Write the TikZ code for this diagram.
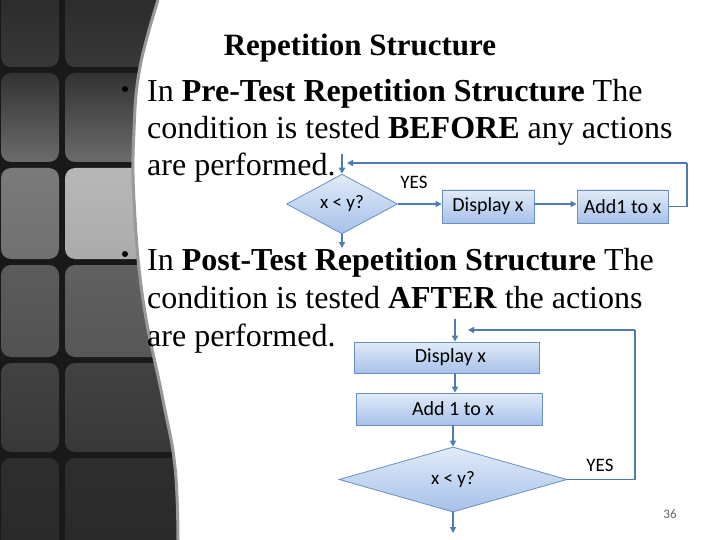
\documentclass[tikz,border=0pt]{standalone}
\usepackage{fontspec}
\setmainfont{Liberation Serif}
\newfontfamily\calfont{Carlito}
\usetikzlibrary{shapes.geometric,arrows.meta}
\definecolor{arr}{HTML}{4F7BB0}
\definecolor{bord}{HTML}{6A8FC3}
\definecolor{ftop}{HTML}{E2EBF8}
\definecolor{fbot}{HTML}{A6C1E9}
\tikzset{
  flowbox/.style={rectangle, draw=bord, line width=0.8pt, top color=ftop, bottom color=fbot, inner sep=0pt, font=\calfont\fontsize{20}{22}\selectfont},
  flowdia/.style={diamond, draw=bord, line width=0.8pt, top color=ftop, bottom color=fbot, inner sep=0pt, font=\calfont\fontsize{19}{22}\selectfont},
  conn/.style={draw=arr, line width=1.6pt, -{Triangle[length=6pt,width=6pt]}},
  connplain/.style={draw=arr, line width=1.6pt},
  lbl/.style={font=\calfont\fontsize{19}{22}\selectfont, inner sep=0pt},
  body/.style={font=\fontsize{32}{36}\selectfont, anchor=base west, inner sep=0pt},
  tile/.style={rounded corners=10pt}
}
\begin{document}
\begin{tikzpicture}[x=1pt,y=-1pt]
\useasboundingbox (0,0) rectangle (720,540);
\fill[white] (0,0) rectangle (720,540);
% left decorative panel
\begin{scope}
\clip (0,0) -- plot[smooth,tension=0.7] coordinates {(158,0) (140,67) (134,130) (134,200) (143,300) (163,400) (175,467) (178,540)} -- (0,540) -- cycle;
\fill[black!90] (0,0) rectangle (200,540);
\shade[tile,top color=black!84,bottom color=black!78] (1,-20) rectangle (59,67);
\shade[tile,top color=black!84,bottom color=black!78] (65,-20) rectangle (230,67);
\shade[tile,top color=black!80,bottom color=black!58] (1,73) rectangle (59,162);
\shade[tile,top color=black!80,bottom color=black!58] (65,73) rectangle (230,162);
\shade[tile,top color=black!52,bottom color=black!56] (1,168) rectangle (59,259);
\shade[tile,top color=black!28,bottom color=black!33] (65,168) rectangle (230,259);
\shade[tile,top color=black!64,bottom color=black!68] (1,265) rectangle (59,357);
\shade[tile,top color=black!62,bottom color=black!66] (65,265) rectangle (230,357);
\shade[tile,top color=black!74,bottom color=black!78] (1,363) rectangle (59,452);
\shade[tile,top color=black!74,bottom color=black!78] (65,363) rectangle (230,452);
\shade[tile,top color=black!82,bottom color=black!84] (1,458) rectangle (59,560);
\shade[tile,top color=black!82,bottom color=black!84] (65,458) rectangle (230,560);
\end{scope}
\draw[black!40,line width=3pt] plot[smooth,tension=0.7] coordinates {(158,0) (140,67) (134,130) (134,200) (143,300) (163,400) (175,467) (178,540)};
% title and text
\node[font=\bfseries\fontsize{31}{34}\selectfont, inner sep=0pt, anchor=base] (title) at (360,56) {Repetition Structure};
\fill (125,89) circle (3);
\fill (125,254) circle (3);
\node[body] (l1) at (147,102) {In \textbf{Pre-Test Repetition Structure} The};
\node[body] (l2) at (147,139) {condition is tested \textbf{BEFORE} any actions};
\node[body] (l3) at (147,176) {are performed.};
\node[body] (l4) at (147,270) {In \textbf{Post-Test Repetition Structure} The};
\node[body] (l5) at (147,308) {condition is tested \textbf{AFTER} the actions};
\node[body] (l6) at (147,346) {are performed.};
% top flowchart
\node[flowdia, minimum width=111pt, minimum height=58pt] (d1) at (342,204) {x < y?};
\node[flowbox, minimum width=92pt, minimum height=33pt] (b1) at (488,206.5) {Display x};
\node[flowbox, minimum width=91pt, minimum height=33pt] (b2) at (622.5,206.5) {Add1 to x};
\node[lbl] (yes1) at (414,182) {YES};
\coordinate (tin) at (342,154);
\coordinate (tout) at (342,248);
\coordinate (tr) at (687,163);
\coordinate (tl) at (347,163);
\draw[conn] (tin) -- (d1.north);
\draw[conn] (d1.south) -- (tout);
\draw[conn] (d1.east) -- (d1.east -| b1.west);
\draw[conn] (b1.east |- d1.east) -- (d1.east -| b2.west);
\draw[connplain] (b2.east) -| (tr);
\draw[conn] (tr) -- (tl);
% bottom flowchart
\node[flowbox, minimum width=185pt, minimum height=31pt] (b3) at (446.5,357.5) {\hspace*{8pt}Display x};
\node[flowbox, minimum width=186pt, minimum height=32pt] (b4) at (449,409) {\hspace*{8pt}Add 1 to x};
\node[flowdia, minimum width=228pt, minimum height=65pt] (d2) at (453,479.5) {x < y?};
\node[lbl] (yes2) at (600,465) {YES};
\coordinate (bin) at (455,319);
\coordinate (bout) at (453,533);
\coordinate (br) at (635,479.5);
\coordinate (brt) at (635,330);
\coordinate (bl) at (468,330);
\draw[conn] (bin) -- (bin |- b3.north);
\draw[conn] (bin |- b3.south) -- (bin |- b4.north);
\draw[conn] (d2.north |- b4.south) -- (d2.north);
\draw[conn] (d2.south) -- (bout);
\draw[connplain] (d2.east) -- (br) -- (brt);
\draw[conn] (brt) -- (bl);
% page number
\node[font=\calfont\fontsize{13}{15}\selectfont, text=black!60, inner sep=0pt] (pg) at (670,514) {36};
\end{tikzpicture}
\end{document}
